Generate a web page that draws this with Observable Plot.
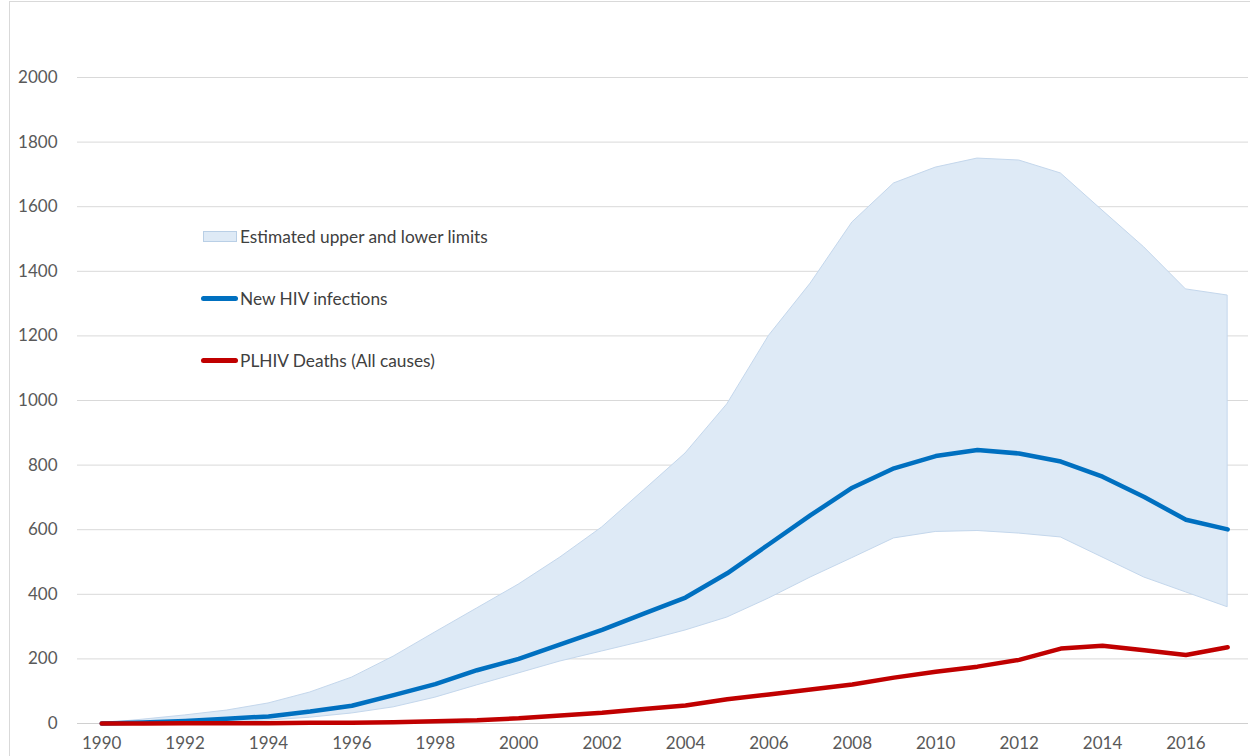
<!DOCTYPE html>
<html><head><meta charset="utf-8">
<script src="https://cdn.jsdelivr.net/npm/d3@7"></script>
<script src="https://cdn.jsdelivr.net/npm/@observablehq/plot@0.6"></script>
<style>
body{margin:0;background:#fff;}
#wrap{position:relative;width:1250px;height:756px;overflow:hidden;background:#fff;}
#frame{position:absolute;left:9px;top:1px;width:1300px;height:800px;border-left:1px solid #d9d9d9;border-top:1px solid #d9d9d9;pointer-events:none;}
#chart{position:absolute;left:0;top:0;}
.leg{position:absolute;font-family:Lato,"Open Sans",sans-serif;font-size:17.3px;color:#404040;display:flex;align-items:center;white-space:nowrap;}
.sw{width:34px;height:11px;background:#deeaf6;border:1px solid #b9cfe6;margin-right:3px;box-sizing:border-box;}
.ln{width:37px;height:5px;border-radius:3px;margin-right:2px;}
</style>
</head><body>
<div id="wrap"><div id="chart"></div><div id="frame"></div>
<div class="leg" style="left:203px;top:226px;"><div class="sw"></div>Estimated upper and lower limits</div>
<div class="leg" style="left:201px;top:288px;"><div class="ln" style="background:#0070C0"></div>New HIV infections</div>
<div class="leg" style="left:201px;top:350px;"><div class="ln" style="background:#C00000"></div>PLHIV Deaths (All causes)</div>
</div>
<script>
const years = [1990,1991,1992,1993,1994,1995,1996,1997,1998,1999,2000,2001,2002,2003,2004,2005,2006,2007,2008,2009,2010,2011,2012,2013,2014,2015,2016,2017];
const newInfections = [0,3,8,15,22,37,55,88,122,165,200,245,290,340,390,465,555,645,730,790,828,847,836,811,764,701,631,601];
const upperLimit = [0,12,25,40,62,96,142,207,282,356,430,514,607,721,836,988,1200,1362,1551,1672,1721,1749,1743,1703,1588,1474,1344,1325];
const lowerLimit = [0,1,2,5,9,18,31,50,80,118,155,192,223,254,288,328,387,452,512,573,593,596,588,576,514,452,406,360];
const deaths = [0,0,1,1,1,2,2,4,7,10,16,25,33,45,56,75,90,105,121,142,160,176,197,232,241,227,212,236];
const xTicks = [1990,1992,1994,1996,1998,2000,2002,2004,2006,2008,2010,2012,2014,2016];
const yTicks = [0,200,400,600,800,1000,1200,1400,1600,1800,2000];

const band = years.map((y,i)=>({year:y, lo:lowerLimit[i], hi:upperLimit[i]}));
const inf = years.map((y,i)=>({year:y, v:newInfections[i]}));
const dth = years.map((y,i)=>({year:y, v:deaths[i]}));

const chart = Plot.plot({
  width:1250, height:756,
  marginLeft:77, marginRight:2, marginTop:77, marginBottom:33,
  style:{fontFamily:"Lato, 'Open Sans', sans-serif", fontSize:"17px", color:"#595959", background:"transparent"},
  x:{domain:[1989.42,2017.5], ticks:xTicks, tickFormat:d=>String(d), tickSize:0, tickPadding:13, label:null},
  y:{domain:[0,2000], ticks:yTicks, tickFormat:d=>String(d), tickSize:0, tickPadding:20, label:null},
  marks:[
    Plot.ruleY(yTicks.filter(t=>t>0), {stroke:"#d9d9d9", strokeWidth:1}),
    Plot.ruleY([0], {stroke:"#d0d0d0", strokeWidth:1}),
    Plot.areaY(band, {x:"year", y1:"lo", y2:"hi", fill:"#deeaf6", stroke:"#c4d7ec", strokeWidth:1}),
    Plot.line(inf, {x:"year", y:"v", stroke:"#0070C0", strokeWidth:4.5, strokeLinecap:"round", strokeLinejoin:"round"}),
    Plot.line(dth, {x:"year", y:"v", stroke:"#C00000", strokeWidth:4.5, strokeLinecap:"round", strokeLinejoin:"round"})
  ]
});
document.getElementById("chart").appendChild(chart);
</script>
</body></html>
